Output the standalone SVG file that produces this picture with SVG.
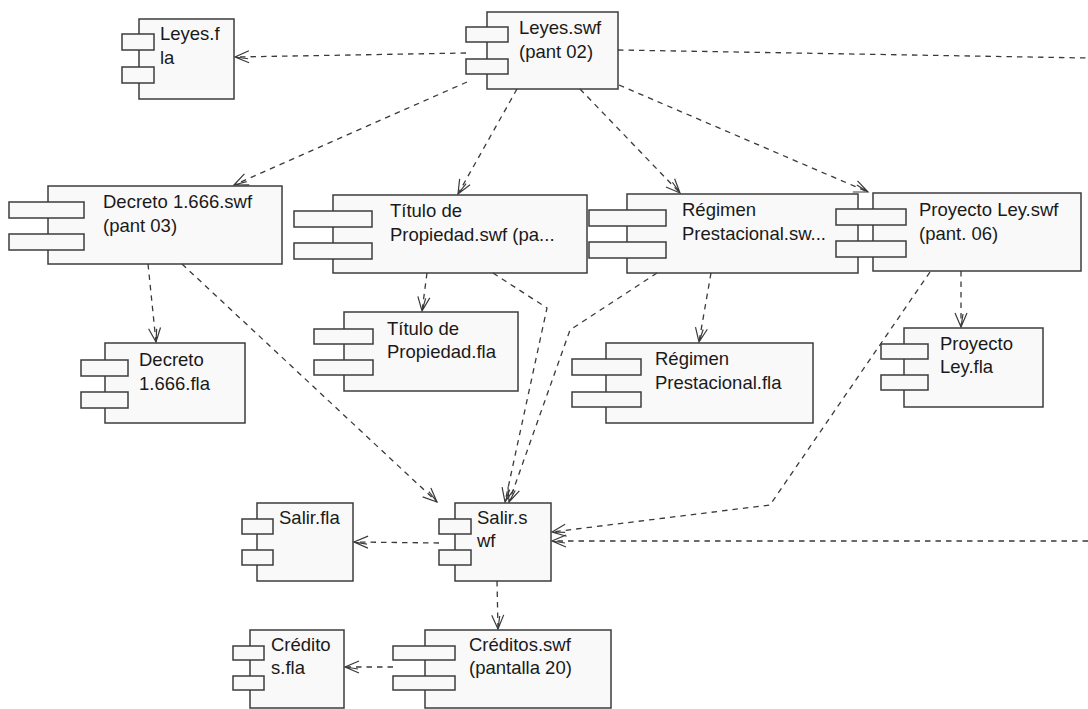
<svg xmlns="http://www.w3.org/2000/svg" width="1088" height="709" viewBox="0 0 1088 709">
  <style>
    .body { fill: #f9f9f9; stroke: #3c3c3c; stroke-width: 1.5; }
    .port { fill: #f9f9f9; stroke: #3c3c3c; stroke-width: 1.5; }
    .lbl { font-family: "Liberation Sans", Arial, sans-serif; font-size: 18.5px; fill: #1a1a1a; }
    .dep { fill: none; stroke: #3a3a3a; stroke-width: 1.3; stroke-dasharray: 5.5 5; }
  </style>
  <defs>
    <marker id="open" markerUnits="userSpaceOnUse" markerWidth="20" markerHeight="20" viewBox="-16 -10 20 20" refX="0" refY="0" orient="auto">
      <path d="M -14 -6 L 0 0 L -14 6 M -13 -2 L 0 0" fill="none" stroke="#3a3a3a" stroke-width="1.2"/>
    </marker>
  </defs>
  <rect width="1088" height="709" fill="#ffffff"/>

  <!-- components -->
  <g id="leyes-fla">
    <rect class="body" x="139" y="19" width="95" height="80"/>
    <rect class="port" x="122" y="34" width="32" height="16"/>
    <rect class="port" x="122" y="67" width="32" height="16"/>
    <text class="lbl" x="160" y="40">Leyes.f</text>
    <text class="lbl" x="160" y="64">la</text>
  </g>
  <g id="leyes-swf">
    <rect class="body" x="487" y="12" width="131" height="77"/>
    <rect class="port" x="466" y="27" width="42" height="15"/>
    <rect class="port" x="466" y="59" width="42" height="15"/>
    <text class="lbl" x="519" y="34">Leyes.swf</text>
    <text class="lbl" x="519" y="58">(pant 02)</text>
  </g>
  <g id="decreto-swf">
    <rect class="body" x="48" y="186" width="234" height="78"/>
    <rect class="port" x="9" y="202" width="75" height="16"/>
    <rect class="port" x="9" y="234" width="75" height="16"/>
    <text class="lbl" x="103" y="208">Decreto 1.666.swf</text>
    <text class="lbl" x="103" y="232">(pant 03)</text>
  </g>
  <g id="titulo-swf">
    <rect class="body" x="333" y="195" width="254" height="78"/>
    <rect class="port" x="294" y="211" width="78" height="16"/>
    <rect class="port" x="294" y="243" width="78" height="16"/>
    <text class="lbl" x="390" y="217">Título de</text>
    <text class="lbl" x="390" y="241">Propiedad.swf (pa...</text>
  </g>
  <g id="regimen-swf">
    <rect class="body" x="627" y="194" width="231" height="79"/>
    <rect class="port" x="589" y="210" width="77" height="16"/>
    <rect class="port" x="589" y="242" width="77" height="16"/>
    <text class="lbl" x="682" y="216">Régimen</text>
    <text class="lbl" x="682" y="240">Prestacional.sw...</text>
  </g>
  <g id="proyecto-swf">
    <rect class="body" x="873" y="193" width="208" height="78"/>
    <rect class="port" x="836" y="209" width="70" height="16"/>
    <rect class="port" x="836" y="241" width="70" height="16"/>
    <text class="lbl" x="919" y="216">Proyecto Ley.swf</text>
    <text class="lbl" x="919" y="240">(pant. 06)</text>
  </g>
  <g id="decreto-fla">
    <rect class="body" x="105" y="343" width="140" height="80"/>
    <rect class="port" x="81" y="360" width="47" height="16"/>
    <rect class="port" x="81" y="392" width="47" height="16"/>
    <text class="lbl" x="139" y="366">Decreto</text>
    <text class="lbl" x="139" y="390">1.666.fla</text>
  </g>
  <g id="titulo-fla">
    <rect class="body" x="344" y="312" width="174" height="79"/>
    <rect class="port" x="314" y="329" width="59" height="15"/>
    <rect class="port" x="314" y="360" width="59" height="15"/>
    <text class="lbl" x="387" y="335">Título de</text>
    <text class="lbl" x="387" y="358">Propiedad.fla</text>
  </g>
  <g id="regimen-fla">
    <rect class="body" x="606" y="343" width="207" height="80"/>
    <rect class="port" x="572" y="359" width="69" height="16"/>
    <rect class="port" x="572" y="392" width="69" height="15"/>
    <text class="lbl" x="655" y="365">Régimen</text>
    <text class="lbl" x="655" y="389">Prestacional.fla</text>
  </g>
  <g id="proyecto-fla">
    <rect class="body" x="904" y="328" width="139" height="79"/>
    <rect class="port" x="881" y="344" width="47" height="15"/>
    <rect class="port" x="881" y="375" width="47" height="15"/>
    <text class="lbl" x="940" y="350">Proyecto</text>
    <text class="lbl" x="940" y="373">Ley.fla</text>
  </g>
  <g id="salir-fla">
    <rect class="body" x="257" y="503" width="96" height="78"/>
    <rect class="port" x="242" y="519" width="31" height="15"/>
    <rect class="port" x="242" y="550" width="31" height="15"/>
    <text class="lbl" x="279" y="524">Salir.fla</text>
  </g>
  <g id="salir-swf">
    <rect class="body" x="455" y="503" width="96" height="78"/>
    <rect class="port" x="439" y="519" width="32" height="15"/>
    <rect class="port" x="439" y="550" width="32" height="15"/>
    <text class="lbl" x="477" y="524">Salir.s</text>
    <text class="lbl" x="477" y="547">wf</text>
  </g>
  <g id="creditos-fla">
    <rect class="body" x="250" y="630" width="94" height="78"/>
    <rect class="port" x="233" y="646" width="31" height="14"/>
    <rect class="port" x="233" y="676" width="31" height="14"/>
    <text class="lbl" x="271" y="651">Crédito</text>
    <text class="lbl" x="271" y="674">s.fla</text>
  </g>
  <g id="creditos-swf">
    <rect class="body" x="425" y="630" width="186" height="78"/>
    <rect class="port" x="393" y="646" width="62" height="14"/>
    <rect class="port" x="393" y="676" width="62" height="14"/>
    <text class="lbl" x="469" y="651">Créditos.swf</text>
    <text class="lbl" x="469" y="674">(pantalla 20)</text>
  </g>

  <!-- dependencies -->
  <g id="connectors">
    <path class="dep" d="M 466 53 L 235 57" marker-end="url(#open)"/>
    <path class="dep" d="M 467 82 L 234 185" marker-end="url(#open)"/>
    <path class="dep" d="M 517 89 L 458 194" marker-end="url(#open)"/>
    <path class="dep" d="M 580 89 L 680 193" marker-end="url(#open)"/>
    <path class="dep" d="M 619 85 L 868 192" marker-end="url(#open)"/>
    <path class="dep" d="M 618 50 L 1088 58"/>
    <path class="dep" d="M 148 264 L 156 342" marker-end="url(#open)"/>
    <path class="dep" d="M 182 264 L 437 502" marker-end="url(#open)"/>
    <path class="dep" d="M 427 273 L 422 311" marker-end="url(#open)"/>
    <path class="dep" d="M 493 273 L 547 308 L 505 502" marker-end="url(#open)"/>
    <path class="dep" d="M 711 273 L 699 342" marker-end="url(#open)"/>
    <path class="dep" d="M 657 273 L 570 330 L 509 502" marker-end="url(#open)"/>
    <path class="dep" d="M 961 271 L 961 327" marker-end="url(#open)"/>
    <path class="dep" d="M 930 272 L 770 505 L 552 532" marker-end="url(#open)"/>
    <path class="dep" d="M 1088 541 L 552 541" marker-end="url(#open)"/>
    <path class="dep" d="M 439 543 L 354 542" marker-end="url(#open)"/>
    <path class="dep" d="M 497 581 L 498 629" marker-end="url(#open)"/>
    <path class="dep" d="M 393 667 L 345 667" marker-end="url(#open)"/>
  </g>
</svg>
